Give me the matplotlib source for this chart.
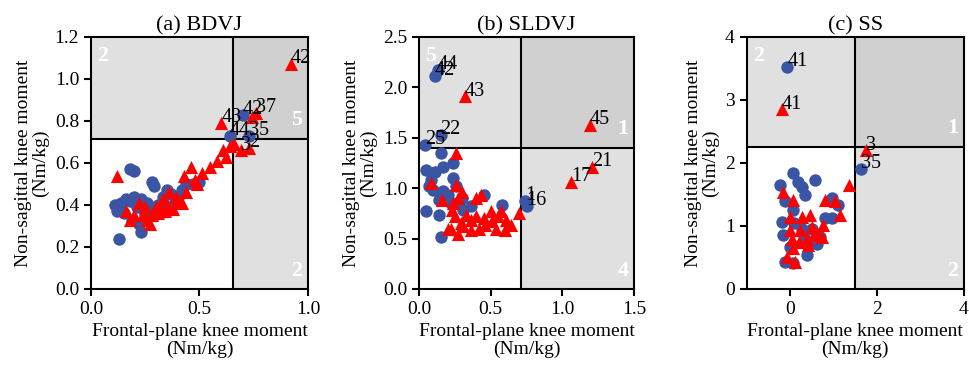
import matplotlib.pyplot as plt
import numpy as np

plt.rcParams['font.family'] = ['Liberation Serif', 'DejaVu Serif']
plt.rcParams['font.size'] = 14

titles = ['(a) BDVJ', '(b) SLDVJ', '(c) SS']

# panel a
a_blue_x = [0.11, 0.12, 0.13, 0.14, 0.16, 0.15, 0.18, 0.20, 0.18, 0.20, 0.21, 0.23, 0.24, 0.23, 0.25, 0.26, 0.27,
            0.28, 0.29, 0.29, 0.31, 0.33, 0.35, 0.37, 0.38, 0.40, 0.42, 0.44, 0.47, 0.50, 0.19, 0.22, 0.64, 0.70, 0.73]
a_blue_y = [0.40, 0.37, 0.24, 0.41, 0.43, 0.36, 0.57, 0.56, 0.42, 0.44, 0.39, 0.43, 0.40, 0.27, 0.35, 0.41, 0.37,
            0.51, 0.49, 0.35, 0.40, 0.44, 0.47, 0.45, 0.40, 0.44, 0.47, 0.50, 0.50, 0.51, 0.33, 0.31, 0.73, 0.83, 0.73]
a_red_x = [0.12, 0.16, 0.18, 0.20, 0.22, 0.24, 0.25, 0.27, 0.28, 0.30, 0.31, 0.33, 0.34, 0.36, 0.38, 0.40, 0.42,
           0.44, 0.43, 0.46, 0.48, 0.49, 0.51, 0.55, 0.58, 0.61, 0.62, 0.64, 0.66, 0.69, 0.73, 0.60, 0.74, 0.76,
           0.92, 0.26, 0.35, 0.32, 0.39]
a_red_y = [0.54, 0.37, 0.33, 0.35, 0.41, 0.35, 0.39, 0.31, 0.35, 0.39, 0.36, 0.43, 0.37, 0.46, 0.38, 0.42, 0.41,
           0.46, 0.54, 0.58, 0.52, 0.50, 0.55, 0.58, 0.61, 0.66, 0.63, 0.68, 0.69, 0.66, 0.67, 0.79, 0.82, 0.84,
           1.07, 0.33, 0.40, 0.38, 0.44]
a_blue_lab = [(0.64, 0.73, '44'), (0.70, 0.83, '42'), (0.73, 0.73, '35')]
a_red_lab = [(0.92, 1.07, '42'), (0.60, 0.79, '43'), (0.76, 0.84, '37'), (0.69, 0.66, '3'), (0.73, 0.67, '2')]

# panel b
b_blue_x = [0.04, 0.15, 0.15, 0.05, 0.11, 0.17, 0.24, 0.07, 0.08, 0.24, 0.26, 0.17, 0.14, 0.30, 0.45, 0.05, 0.14,
            0.58, 0.15, 0.31, 0.22, 0.20, 0.10, 0.28, 0.36, 0.13, 0.11, 0.74, 0.75]
b_blue_y = [1.43, 1.53, 1.35, 1.18, 1.16, 1.21, 1.25, 1.02, 1.08, 1.10, 1.02, 0.97, 0.88, 0.90, 0.93, 0.77, 0.73,
            0.83, 0.52, 0.78, 0.85, 0.93, 0.98, 0.86, 0.82, 2.17, 2.11, 0.87, 0.82]
b_red_x = [0.32, 1.19, 1.21, 1.06, 0.70, 0.26, 0.08, 0.16, 0.26, 0.30, 0.24, 0.23, 0.25, 0.40, 0.43, 0.205, 0.275,
           0.29, 0.36, 0.40, 0.415, 0.50, 0.51, 0.57, 0.54, 0.61, 0.64, 0.60, 0.36, 0.46, 0.33, 0.22, 0.45, 0.55,
           0.27, 0.31]
b_red_y = [1.91, 1.63, 1.21, 1.06, 0.75, 1.35, 1.05, 0.88, 1.03, 0.965, 0.85, 0.78, 0.72, 0.90, 0.93, 0.60, 0.55,
           0.65, 0.68, 0.72, 0.60, 0.77, 0.67, 0.77, 0.60, 0.68, 0.63, 0.585, 0.585, 0.635, 0.73, 0.60, 0.70, 0.72,
           0.90, 0.62]
b_blue_lab = [(0.13, 2.17, '44'), (0.11, 2.11, '42'), (0.15, 1.53, '22'), (0.04, 1.43, '25'), (0.74, 0.87, '1'),
              (0.75, 0.82, '16')]
b_red_lab = [(0.32, 1.91, '43'), (1.19, 1.63, '45'), (1.21, 1.21, '21'), (1.06, 1.06, '17')]

# panel c
c_blue_x = [0.08, -0.23, 0.19, 0.27, 0.34, 0.57, -0.11, 0.08, -0.19, 0.96, 1.11, 0.80, 0.96, -0.15, 0.0, -0.11,
            0.08, 0.38, 0.61, 0.27, 0.50, 0.69, 0.10, 0.35, -0.06, 1.63]
c_blue_y = [1.84, 1.65, 1.70, 1.62, 1.49, 1.73, 1.39, 1.25, 1.07, 1.44, 1.33, 1.12, 1.12, 0.86, 0.67, 0.43,
            0.41, 0.54, 0.72, 0.96, 0.96, 0.83, 1.05, 0.80, 3.53, 1.90]
c_red_x = [-0.19, 1.75, 1.36, -0.15, 0.08, 0.80, 1.03, 1.15, 0.0, 0.27, 0.46, 0.0, 0.23, 0.50, 0.77, 0.04, 0.38,
           0.73, 0.08, 0.42, -0.08, 0.11, 0.61, 0.20, 0.55]
c_red_y = [2.85, 2.20, 1.65, 1.54, 1.41, 1.41, 1.39, 1.17, 1.15, 1.15, 1.17, 0.94, 0.94, 0.99, 1.02, 0.80, 0.80,
           0.83, 0.65, 0.70, 0.51, 0.43, 0.88, 0.75, 0.85]
c_blue_lab = [(-0.06, 3.53, '41'), (1.63, 1.90, '35')]
c_red_lab = [(-0.19, 2.85, '41'), (1.75, 2.20, '3')]

xlims = [(0, 1.0), (0, 1.5), (-1, 4)]
ylims = [(0, 1.2), (0, 2.5), (0, 4)]
xticks = [[0.0, 0.5, 1.0], [0.0, 0.5, 1.0, 1.5], [0, 2, 4]]
yticks = [np.arange(0, 1.21, 0.2), np.arange(0, 2.51, 0.5), [0, 1, 2, 3, 4]]
xfmt = ['%.1f', '%.1f', '%d']
yfmt = ['%.1f', '%.1f', '%d']
cut_x = [0.655, 0.713, 1.5]
cut_y = [0.714, 1.40, 2.25]
zone_txt = [('2', '5', '2'), ('5', '1', '4'), ('2', '1', '2')]

blue_x = [a_blue_x, b_blue_x, c_blue_x]
blue_y = [a_blue_y, b_blue_y, c_blue_y]
red_x = [a_red_x, b_red_x, c_red_x]
red_y = [a_red_y, b_red_y, c_red_y]
blue_lab = [a_blue_lab, b_blue_lab, c_blue_lab]
red_lab = [a_red_lab, b_red_lab, c_red_lab]

fig = plt.figure(figsize=(9.7, 3.68), dpi=100)
lefts = [0.0938, 0.432, 0.7696]
widths = [0.2237, 0.2216, 0.2242]

for i in range(3):
    ax = fig.add_axes([lefts[i], 0.2147, widths[i], 0.6848])
    x0, x1 = xlims[i]
    y0, y1 = ylims[i]
    cx, cy = cut_x[i], cut_y[i]
    ax.fill_between([x0, cx], cy, y1, color='#e0e0e0', lw=0, zorder=0)
    ax.fill_between([cx, x1], cy, y1, color='#d0d0d0', lw=0, zorder=0)
    ax.fill_between([cx, x1], y0, cy, color='#e0e0e0', lw=0, zorder=0)
    ax.axvline(cx, color='black', lw=1.5, zorder=1)
    ax.axhline(cy, color='black', lw=1.5, zorder=1)

    ax.scatter(blue_x[i], blue_y[i], s=80, marker='o', color='#3a55a4', lw=0, zorder=2)
    ax.scatter(red_x[i], red_y[i], s=90, marker='^', color='#ff0000', lw=0, zorder=3)
    for (x, y, t) in blue_lab[i] + red_lab[i]:
        ax.annotate(t, (x, y), xytext=(0, -3), textcoords='offset points', ha='left', va='bottom', fontsize=14.5,
                    zorder=4)

    t1, t2, t3 = zone_txt[i]
    ax.text(0.03, 0.965, t1, transform=ax.transAxes, color='white', fontweight='bold', fontsize=16,
            ha='left', va='top', zorder=5)
    ax.text(0.975, (cy - y0) / (y1 - y0) + 0.035, t2, transform=ax.transAxes, color='white', fontweight='bold',
            fontsize=16, ha='right', va='bottom', zorder=5)
    ax.text(0.975, 0.03, t3, transform=ax.transAxes, color='white', fontweight='bold', fontsize=16,
            ha='right', va='bottom', zorder=5)

    ax.set_xlim(x0, x1)
    ax.set_ylim(y0, y1)
    ax.set_xticks(xticks[i])
    ax.set_yticks(yticks[i])
    ax.set_xticklabels([xfmt[i] % v for v in xticks[i]])
    ax.set_yticklabels([yfmt[i] % v for v in yticks[i]])
    ax.tick_params(width=1.5, length=5, labelsize=14)
    for sp in ax.spines.values():
        sp.set_linewidth(1.5)
        sp.set_zorder(6)
    ax.set_title(titles[i], fontsize=16, pad=5)
    ax.set_xlabel('Frontal-plane knee moment\n(Nm/kg)', fontsize=14, linespacing=1.0)
    ax.set_ylabel('Non-sagittal knee moment\n(Nm/kg)', fontsize=14, linespacing=1.0)

fig.savefig('out.png', dpi=100)
